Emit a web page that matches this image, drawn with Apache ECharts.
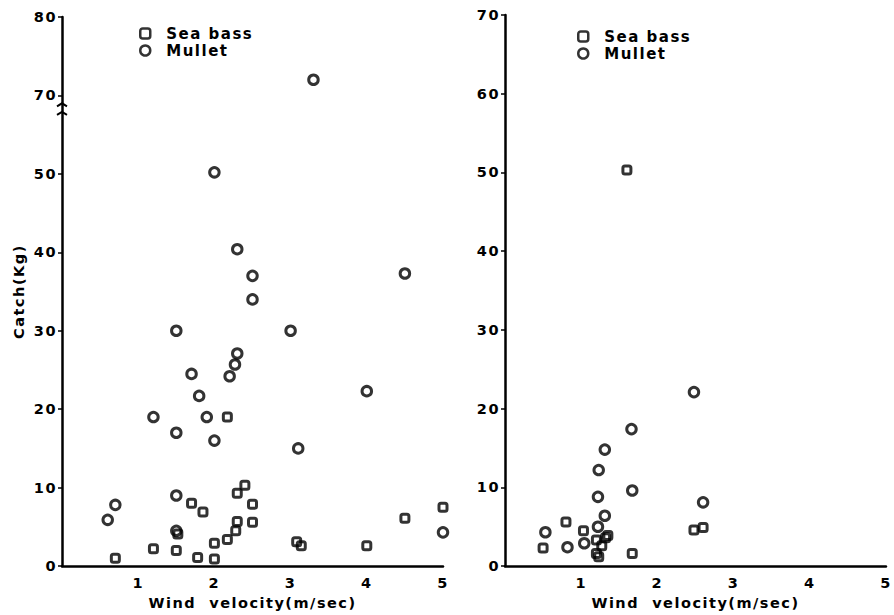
<!DOCTYPE html>
<html>
<head>
<meta charset="utf-8">
<script src="https://cdn.jsdelivr.net/npm/echarts@6/dist/echarts.min.js"></script>
<style>
  html, body { margin: 0; padding: 0; background: #fff; }
  #chart { width: 894px; height: 615px; }
  #chart text { letter-spacing: 1.5px; }
</style>
</head>
<body>
<div id="chart"></div>
<script>
// Wind velocity ticks (m/sec)
const xTicks = [0, 1, 2, 3, 4, 5];
// Left panel y axis is broken between 50 and 70: labels shown at each 10-unit step
const leftYTickLabels = ['0', '10', '20', '30', '40', '50', '70', '80'];
const rightYTickLabels = ['0', '10', '20', '30', '40', '50', '60', '70'];

// Left panel: [wind velocity, catch kg]
const seaBassLeft = [
  [0.7, 1.0], [1.2, 2.2], [1.5, 2.0], [1.52, 4.1], [1.7, 8.0], [1.85, 6.9],
  [1.78, 1.1], [2.0, 0.9], [2.0, 2.9], [2.17, 19.0], [2.17, 3.4], [2.3, 9.3],
  [2.4, 10.3], [2.3, 5.7], [2.28, 4.5], [2.5, 7.9], [2.5, 5.6], [3.08, 3.1],
  [3.14, 2.6], [4.0, 2.6], [4.5, 6.1], [5.0, 7.5]
];
const mulletLeft = [
  [0.6, 5.9], [0.7, 7.8], [1.2, 19.0], [1.5, 17.0], [1.5, 9.0], [1.5, 4.5],
  [1.9, 19.0], [2.0, 16.0], [3.1, 15.0], [5.0, 4.3], [1.8, 21.7], [1.7, 24.5],
  [2.2, 24.2], [2.27, 25.7], [2.3, 27.1], [1.5, 30.0], [3.0, 30.0], [2.5, 34.0],
  [2.5, 37.0], [2.3, 40.4], [4.5, 37.3], [4.0, 22.3], [2.0, 50.2], [3.3, 72.0]
];

// Right panel: [wind velocity, catch kg]
const seaBassRight = [
  [0.5, 2.3], [0.8, 5.6], [1.03, 4.5], [1.2, 3.3], [1.2, 1.6], [1.23, 1.2],
  [1.27, 2.6], [1.32, 3.6], [1.35, 3.9], [1.67, 1.6], [2.48, 4.6], [2.6, 4.9],
  [1.6, 50.3]
];
const mulletRight = [
  [0.53, 4.3], [0.82, 2.4], [1.04, 2.9], [1.22, 5.0], [1.31, 6.4], [1.22, 8.8],
  [1.23, 12.2], [1.31, 14.8], [1.66, 17.4], [1.67, 9.6], [2.6, 8.1], [2.48, 22.1]
];

// Values above the break (60) sit 10 units lower on the drawn scale
const BREAK_AT = 60, BREAK_SPAN = 10;
const toBrokenScale = v => (v > BREAK_AT ? v - BREAK_SPAN : v);
const breakPoints = pts => pts.map(([x, y]) => [x, toBrokenScale(y)]);

const FONT = '"DejaVu Sans", sans-serif';
const INK = '#000';

const axisLineStyle = { lineStyle: { color: INK, width: 2.5 } };
const tickLabel = { color: INK, fontFamily: FONT, fontWeight: 'bold', fontSize: 14.5 };

function xAxisFor(gridIndex) {
  return {
    type: 'value', gridIndex, min: 0, max: 5, interval: 1,
    name: 'Wind  velocity(m/sec)', nameLocation: 'middle', nameGap: 27,
    nameTextStyle: { color: INK, fontFamily: FONT, fontWeight: 'bold', fontSize: 14.5 },
    axisLine: axisLineStyle,
    axisTick: { show: false },
    splitLine: { show: false },
    axisLabel: Object.assign({ margin: 9, showMinLabel: false,
      formatter: v => String(xTicks[Math.round(v)]) }, tickLabel)
  };
}

function yAxisFor(gridIndex, labels, name) {
  return {
    type: 'value', gridIndex, min: 0, max: 70, interval: 10,
    name: name || '', nameLocation: 'middle', nameGap: 36,
    nameTextStyle: { color: INK, fontFamily: FONT, fontWeight: 'bold', fontSize: 14.5 },
    axisLine: { show: true, onZero: false, lineStyle: { color: INK, width: 2.5 } },
    axisTick: { show: true, inside: false, length: 4, lineStyle: { color: INK, width: 1.5 } },
    splitLine: { show: false },
    axisLabel: Object.assign({ margin: 5,
      formatter: v => labels[Math.round(v / 10)] }, tickLabel)
  };
}

const hollow = { color: 'rgba(0,0,0,0)', borderColor: INK, borderWidth: 3 };

function scatter(name, data, idx, symbol, size) {
  return {
    type: 'scatter', name, data,
    xAxisIndex: idx, yAxisIndex: idx,
    symbol, symbolSize: size,
    itemStyle: hollow,
    emphasis: { disabled: true },
    clip: false
  };
}

function legendFor(left, top) {
  return {
    orient: 'vertical', left, top, itemGap: 2,
    itemWidth: 10, itemHeight: 10,
    data: [
      { name: 'Sea bass', icon: 'roundRect' },
      { name: 'Mullet', icon: 'circle' }
    ],
    itemStyle: { color: 'rgba(0,0,0,0)', borderColor: INK, borderWidth: 2.5 },
    textStyle: { color: INK, fontFamily: FONT, fontWeight: 'bold', fontSize: 15, padding: [0, 0, 0, 11] },
    selectedMode: false
  };
}

const chart = echarts.init(document.getElementById('chart'), null, { renderer: 'svg' });

chart.setOption({
  animation: false,
  backgroundColor: '#fff',
  grid: [
    { left: 62, right: 451, top: 17, bottom: 48 },
    { left: 505, right: 4, top: 15, bottom: 48 }
  ],
  xAxis: [xAxisFor(0), xAxisFor(1)],
  yAxis: [yAxisFor(0, leftYTickLabels, 'Catch(Kg)'), yAxisFor(1, rightYTickLabels)],
  legend: [legendFor(134, 21), legendFor(572, 24)],
  series: [
    scatter('Sea bass', breakPoints(seaBassLeft), 0, 'roundRect', 8),
    scatter('Mullet', breakPoints(mulletLeft), 0, 'circle', 9.5),
    scatter('Sea bass', seaBassRight, 1, 'roundRect', 8),
    scatter('Mullet', mulletRight, 1, 'circle', 9.5)
  ]
});

// Break marks on the left y axis, just under the "70" label
const marks = [57.9, 59.0].map(v => {
  const [px, py] = chart.convertToPixel({ gridIndex: 0 }, [0, v]);
  return {
    type: 'polyline',
    shape: { points: [[px - 5, py + 3], [px, py], [px + 5, py + 3]] },
    style: { stroke: INK, lineWidth: 2, fill: null },
    silent: true, z: 10
  };
});
chart.setOption({ graphic: marks });
</script>
</body>
</html>
